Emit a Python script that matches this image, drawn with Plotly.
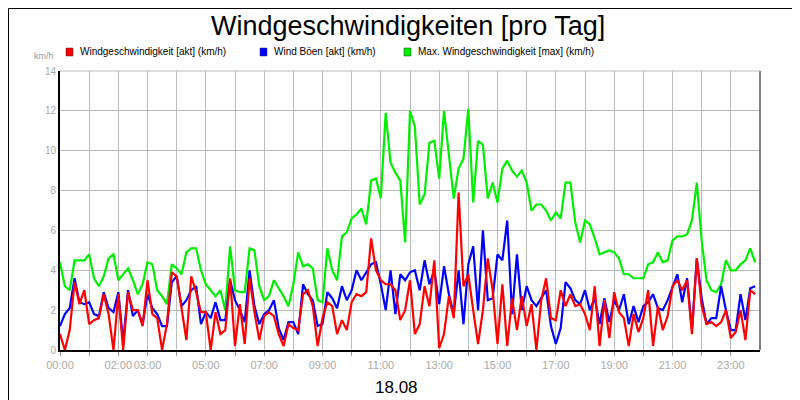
import plotly.graph_objects as go

green = [4.4,3.2,3.0,4.5,4.5,4.5, 4.8,3.6,3.2,3.7,4.6,4.8, 3.5,3.8,4.1,3.5,2.8,3.3,
         4.4,4.3,3.0,2.7,2.3,4.3, 4.1,3.8,4.9,5.1,5.1,4.0, 3.3,3.0,2.7,3.0,2.0,5.2,
         3.0,2.9,2.9,5.1,5.0,3.2, 2.5,2.7,3.5,3.1,2.7,2.2, 3.3,4.9,4.2,4.3,4.1,2.5,
         2.4,5.1,4.0,3.5,5.7,5.9, 6.6,6.8,7.1,6.3,8.5,8.6, 7.6,11.9,9.4,8.9,8.5,5.4,
         12.0,11.2,7.3,7.8,10.4,10.5, 8.6,12.0,9.8,7.6,9.1,9.6, 12.1,7.4,10.5,10.3,7.6,8.4,
         7.4,9.1,9.5,9.0,8.7,9.0, 8.4,7.0,7.3,7.3,7.0,6.5, 6.9,6.6,8.4,8.4,6.4,5.4,
         6.5,6.3,5.6,4.8,4.9,5.0, 4.9,4.6,3.8,3.8,3.6,3.6, 3.6,4.3,4.4,4.9,4.4,4.5,
         5.5,5.7,5.7,5.8,6.5,8.4, 5.5,3.5,3.0,2.9,3.3,4.5, 4.0,4.0,4.3,4.5,5.1,4.4]
red = [0.8,0.0,1.0,3.4,2.3,3.0, 1.3,1.5,1.6,2.8,1.8,0.0, 2.8,0.0,2.9,2.0,2.0,1.2,
       3.5,1.8,1.6,0.0,1.3,3.9, 3.7,2.2,0.5,3.7,2.9,1.9, 1.9,0.0,1.9,0.8,1.0,3.6,
       0.2,2.3,0.3,3.6,1.9,0.5, 1.7,1.9,1.7,0.8,0.2,1.3, 1.1,1.0,2.8,3.0,2.2,0.2,
       1.6,2.4,2.2,0.8,1.5,1.0, 2.4,2.8,2.7,2.9,5.6,4.0, 3.5,3.3,3.3,3.0,1.5,2.0,
       3.5,0.8,1.3,3.2,2.2,4.5, 0.1,0.8,2.7,1.6,7.9,3.2, 3.8,2.0,0.3,2.0,4.6,3.0,
       0.3,3.3,0.2,2.6,1.0,2.7, 1.2,2.3,0.0,2.5,3.6,1.6, 1.5,3.0,2.2,2.8,2.2,2.3,
       1.8,1.0,3.2,0.2,2.5,0.6, 2.9,1.9,1.6,0.2,1.8,0.9, 1.6,3.0,0.2,2.2,1.0,1.7,
       3.2,3.5,3.0,3.5,0.8,4.6, 2.2,1.3,1.4,1.2,1.4,2.0, 0.6,0.9,2.0,0.5,3.0,2.8]
blue = [1.2,1.8,2.1,3.6,2.4,2.3, 2.4,1.8,1.7,2.9,2.1,1.9, 2.9,0.4,3.0,1.7,2.0,1.3,
        2.8,2.1,1.8,1.2,1.2,3.4, 3.7,2.2,2.5,3.0,3.2,1.3, 1.9,1.6,2.4,1.5,1.5,3.5,
        2.5,2.0,1.4,4.0,2.2,1.3, 1.8,2.0,2.5,1.1,0.5,1.4, 1.4,0.8,3.3,2.8,2.5,1.2,
        1.3,2.9,2.6,2.1,3.2,2.5, 3.0,4.0,3.5,3.9,4.3,4.4, 3.3,2.0,4.0,1.8,3.8,3.5,
        3.9,4.0,3.0,4.5,3.3,4.0, 2.3,4.2,2.8,1.8,4.0,1.3, 4.3,5.2,2.0,6.0,2.5,2.6,
        4.8,4.5,6.5,1.8,4.8,2.0, 3.2,2.5,2.2,2.6,3.0,1.2, 0.3,1.1,3.4,3.1,2.5,2.3,
        3.0,2.0,2.6,1.3,2.6,1.4, 2.5,2.0,2.8,1.3,2.2,1.4, 2.2,2.4,2.8,2.1,2.0,2.5,
        3.2,3.8,2.4,3.6,1.0,4.6, 2.6,1.3,1.6,1.6,3.2,2.0, 1.0,1.0,2.8,1.5,3.1,3.2]
hours = [i / 6 for i in range(len(green))]
tick_hours = list(range(24))
tick_labels = {0: "00:00", 2: "02:00", 3: "03:00", 5: "05:00", 7: "07:00", 9: "09:00",
               11: "11:00", 13: "13:00", 15: "15:00", 17: "17:00", 19: "19:00",
               21: "21:00", 23: "23:00"}
names = ["Windgeschwindigkeit [akt] (km/h)", "Wind Böen [akt] (km/h)",
         "Max. Windgeschwindigkeit [max] (km/h)"]

fig = go.Figure()
fig.add_trace(go.Scatter(x=hours, y=green, mode="lines", line=dict(color="#00ee00", width=2.2)))
fig.add_trace(go.Scatter(x=hours, y=blue, mode="lines", line=dict(color="#0000ff", width=2.2)))
fig.add_trace(go.Scatter(x=hours, y=red, mode="lines", line=dict(color="#ff0000", width=2.2)))

W, H = 700, 279
def px(x): return (x - 52) / W
def py(y): return (342 - y) / H

shapes = [dict(type="rect", xref="paper", yref="paper", x0=px(0.5), x1=px(799.5),
               y0=py(399.5), y1=py(0.5), line=dict(color="black", width=1))]
annotations = []
for cx, col, name in [(62, "#ff0000", names[0]), (256, "#0000ff", names[1]), (400, "#00ee00", names[2])]:
    shapes.append(dict(type="rect", xref="paper", yref="paper", x0=px(cx - 4), x1=px(cx + 3),
                       y0=py(48), y1=py(40), fillcolor=col, line=dict(color="#333", width=0.5)))
    annotations.append(dict(text=name, xref="paper", yref="paper", x=px(cx + 8), y=py(44),
                            xanchor="left", yanchor="middle", showarrow=False,
                            font=dict(size=10, color="black")))
annotations += [
    dict(text="Windgeschwindigkeiten [pro Tag]", xref="paper", yref="paper", x=px(400), y=py(18),
         xanchor="center", yanchor="middle", showarrow=False, font=dict(size=27, color="black")),
    dict(text="km/h", xref="paper", yref="paper", x=px(36), y=py(48), xanchor="center",
         yanchor="middle", showarrow=False, font=dict(size=9, color="#999")),
    dict(text="18.08", xref="paper", yref="paper", x=px(388), y=py(379), xanchor="center",
         yanchor="middle", showarrow=False, font=dict(size=17, color="black")),
]

fig.update_layout(
    width=800, height=400, margin=dict(l=52, r=48, t=63, b=58, autoexpand=False),
    paper_bgcolor="white", plot_bgcolor="white", showlegend=False,
    font=dict(family="Liberation Sans, Arial, sans-serif"),
    shapes=shapes, annotations=annotations,
    xaxis=dict(range=[0, 24], tickmode="array", tickvals=tick_hours,
               ticktext=[tick_labels.get(h, "") for h in tick_hours],
               tickangle=0, automargin=False,
               showgrid=True, gridcolor="#bbbbbb", gridwidth=1,
               ticks="outside", ticklen=4, tickcolor="#999",
               tickfont=dict(size=11, color="#aaa"), showline=True, linecolor="black",
               linewidth=2, mirror=False, zeroline=False, fixedrange=True),
    yaxis=dict(range=[0, 14], tickvals=list(range(0, 15, 2)), showgrid=True,
               automargin=False,
               gridcolor="#bbbbbb", tickfont=dict(size=10, color="#aaa"),
               showline=True, linecolor="black", linewidth=2, zeroline=False,
               ticks="", fixedrange=True),
)
fig.add_shape(type="line", xref="paper", yref="paper", x0=1, x1=1, y0=0, y1=1,
              line=dict(color="#555", width=1.5))
fig.add_shape(type="line", xref="paper", yref="paper", x0=0, x1=1, y0=1, y1=1,
              line=dict(color="#bbb", width=1))
fig.write_html("out.html")
